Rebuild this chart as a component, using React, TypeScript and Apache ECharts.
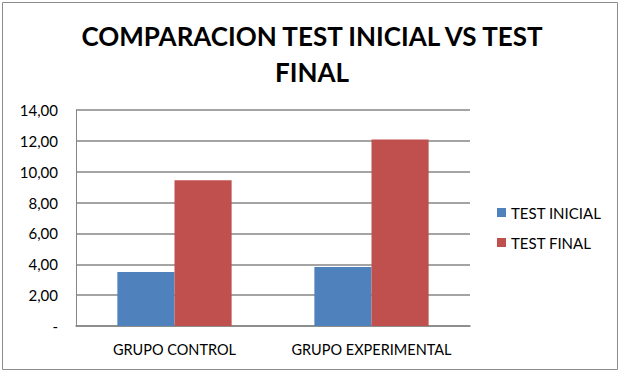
import React, { useEffect, useRef } from "react";
import * as echarts from "echarts";

const categories = ["GRUPO CONTROL", "GRUPO EXPERIMENTAL"];
const testInicial = [3.5, 3.83];
const testFinal = [9.45, 12.08];
const seriesNames = ["TEST INICIAL", "TEST FINAL"];
const titleText = "COMPARACION TEST INICIAL VS TEST\nFINAL";

export default function App() {
  const ref = useRef<HTMLDivElement>(null);
  useEffect(() => {
    document.body.style.margin = "0";
    const chart = echarts.init(ref.current!, null, { renderer: "svg" });
    chart.setOption({
      animation: false,
      backgroundColor: "#fff",
      title: {
        text: titleText,
        left: 307,
        textAlign: "center",
        top: 13,
        textStyle: { fontFamily: "Lato", fontWeight: "bold", fontSize: 26, color: "#000", lineHeight: 36 },
      },
      graphic: [
        { type: "rect", shape: { x: 2.5, y: 2.5, width: 615, height: 367 }, style: { fill: "none", stroke: "#8c8c8c", lineWidth: 1 } },
      ],
      legend: {
        orient: "vertical",
        left: 492,
        top: 200,
        itemWidth: 9,
        itemHeight: 9,
        itemGap: 15,
        icon: "rect",
        textStyle: { fontFamily: "Lato", fontSize: 15, color: "#000" },
        data: seriesNames,
      },
      grid: { left: 76, right: 152, top: 110, bottom: 49 },
      xAxis: {
        type: "category",
        data: categories,
        axisLine: { lineStyle: { color: "#868686", width: 1.5 } },
        axisTick: { show: false },
        axisLabel: { interval: 0, fontFamily: "Lato", fontSize: 14.5, color: "#000", margin: 16 },
      },
      yAxis: {
        type: "value",
        min: 0,
        max: 14,
        interval: 2,
        axisLine: { show: true, lineStyle: { color: "#868686" } },
        axisTick: { show: false },
        splitLine: { lineStyle: { color: "#868686", width: 1.5 } },
        axisLabel: {
          fontFamily: "Lato",
          fontSize: 15,
          color: "#000",
          margin: 18,
          formatter: (v: number) => (v === 0 ? "-" : v.toFixed(2).replace(".", ",")),
        },
      },
      series: [
        { name: seriesNames[0], type: "bar", data: testInicial, itemStyle: { color: "#4F81BD" }, barGap: "0%", barCategoryGap: "42%" },
        { name: seriesNames[1], type: "bar", data: testFinal, itemStyle: { color: "#C0504D" }, barGap: "0%", barCategoryGap: "42%" },
      ],
    });
    return () => chart.dispose();
  }, []);
  return <div ref={ref} style={{ width: 622, height: 375 }} />;
}
